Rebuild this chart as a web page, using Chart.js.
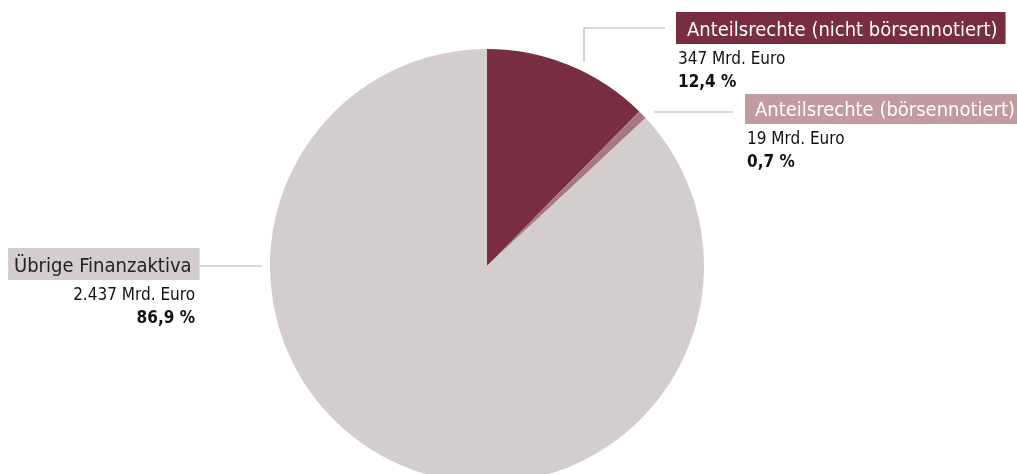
<!DOCTYPE html>
<html lang="de">
<head>
<meta charset="utf-8">
<script src="https://cdn.jsdelivr.net/npm/chart.js@4"></script>
<style>
  html, body { margin: 0; padding: 0; background: #fff; overflow: hidden; }
  #box { position: relative; width: 1017px; height: 500px; }
</style>
</head>
<body>
<div id="box"><canvas id="grafico"></canvas></div>
<script>
// Anteile am Finanzvermögen
var kategorien = ['Anteilsrechte (nicht börsennotiert)', 'Anteilsrechte (börsennotiert)', 'Übrige Finanzaktiva'];
var werte = [347, 19, 2437];           // Mrd. Euro
var wertTexte = ['347 Mrd. Euro', '19 Mrd. Euro', '2.437 Mrd. Euro'];
var prozente = ['12,4 %', '0,7 %', '86,9 %'];

var farben = ['#782d40', '#a87880', '#d3cdcd'];
var labelFarben = ['#782d40', '#c29ba1', '#d3cdcd'];
var textFarben = ['#ffffff', '#ffffff', '#222222'];

var schrift = "'Liberation Sans Narrow', 'DejaVu Sans Condensed', 'Noto Sans', sans-serif";

// Beschriftungen: Box, Wert, Prozent und Verbindungslinie
var beschriftungen = [
  { x: 676, y: 12, h: 32, pad: 11, ausr: 'left', linie: [[665, 28], [584, 28], [584, 62]] },
  { x: 745, y: 94, h: 30, pad: 10, ausr: 'left', linie: [[733, 112], [654, 112]] },
  { x: 8, y: 248, h: 32, pad: 6, ausr: 'right', rechts: 195, linie: [[200, 266], [262, 266]] }
];

const labelPlugin = {
  id: 'labels',
  afterDraw(chart) {
    const ctx = chart.ctx;
    ctx.save();
    beschriftungen.forEach(function (b, i) {
      // Linie
      ctx.strokeStyle = '#b9b4b4';
      ctx.lineWidth = 1.2;
      ctx.beginPath();
      b.linie.forEach(function (p, k) {
        if (k == 0) ctx.moveTo(p[0], p[1]); else ctx.lineTo(p[0], p[1]);
      });
      ctx.stroke();

      // Kategorie in farbiger Box
      ctx.font = '20px ' + schrift;
      var w = ctx.measureText(kategorien[i]).width;
      ctx.fillStyle = labelFarben[i];
      ctx.fillRect(b.x, b.y, w + b.pad + 8, b.h);
      ctx.fillStyle = textFarben[i];
      ctx.textBaseline = 'alphabetic';
      ctx.textAlign = 'left';
      ctx.fillText(kategorien[i], b.x + b.pad, b.y + b.h - 8);

      // Wert und Prozent
      ctx.fillStyle = '#111';
      var tx = b.x + 2;
      if (b.ausr == 'right') {
        ctx.textAlign = 'right';
        tx = b.rechts;
      }
      ctx.font = '17px ' + schrift;
      ctx.fillText(wertTexte[i], tx, b.y + b.h + 20);
      ctx.font = 'bold 17px ' + schrift;
      ctx.fillText(prozente[i], tx, b.y + b.h + 43);
    });
    ctx.restore();
  }
};

new Chart(document.getElementById('grafico'), {
  type: 'pie',
  data: {
    labels: kategorien,
    datasets: [{
      data: werte,
      backgroundColor: farben,
      borderWidth: 0
    }]
  },
  options: {
    responsive: true,
    maintainAspectRatio: false,
    animation: false,
    layout: { padding: { left: 270, right: 313, top: 49, bottom: 17 } },
    plugins: {
      legend: { display: false },
      tooltip: { enabled: false }
    }
  },
  plugins: [labelPlugin]
});
</script>
</body>
</html>
